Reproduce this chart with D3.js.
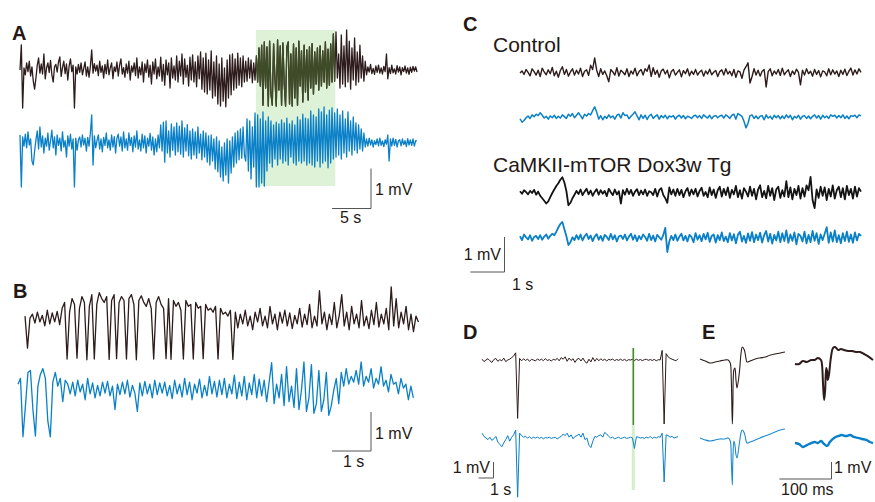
<!DOCTYPE html>
<html>
<head>
<meta charset="utf-8">
<script src="https://cdn.jsdelivr.net/npm/d3@7"></script>
<style>
  body { margin: 0; background: #fff; }
  svg { display: block; }
  text { font-family: "Liberation Sans", Arial, sans-serif; fill: #231815; }
</style>
</head>
<body>
<svg id="fig" width="875" height="502"></svg>
<script>
// all trace values in 0.01 mV, evenly sampled over the trace duration

// A: ~51 s, top = black, bottom = blue
var aBlack = [
  0, 63, -95, 5, -12, 18, -4, 22, -15, 8,
  -28, -48, -20, 12, 30, -8, 15, -10, 40, -22,
  5, 18, -6, 24, -12, -30, 8, 14, -5, 20,
  33, -16, 6, 22, -9, 15, -25, 10, 28, -4,
  12, -95, 8, -10, 14, -6, 18, -12, 4, 20,
  -15, 8, -18, 9, 50, -8, 16, -3, 12, -14,
  22, -6, 10, -20, 14, -9, 25, -12, 5, 18,
  -22, 8, -4, 20, -15, 12, 28, -10, 6, -18,
  15, -8, 22, -25, 10, -5, 18, -14, 30, -20,
  8, -12, 20, -30, 15, -6, 25, -18, 12, -35,
  20, -10, 28, -22, 8, -15, 32, -28, 14, -38,
  25, -12, 18, -45, 30, -20, 10, -25, 35, -30,
  22, -15, 40, -35, 28, -18, 12, -40, 32, -25,
  38, -30, 20, -42, 35, -22, 45, -48, 30, -55,
  42, -60, 25, -50, 48, -70, 20, -65, 35, -85,
  15, -90, 30, -78, 5, -92, 25, -70, 38, -62,
  40, -50, 28, -45, 42, -38, 30, -42, 35, -30,
  22, -28, 30, -20, 25, -32, 18, -25,
  35, -30, 55, -40, 62, -88, 70, -45, 58, -90,
  72, -60, -88, 65, -20, -90, 75, -50, 60, -88,
  68, -35, -90, 58, 70, -85, 40, -90, 65, -70,
  55, -88, 72, -40, 48, -80, 62, -55, 50, -75,
  58, -45, 66, -60, 45, -35, 55, -50, 60, -40,
  48, -30, 70, -45, 52, -38, 65, -30, 90, -28,
  95, -20, 40, -45, 88, -35, 60, -42, 100, -30,
  72, -48, 55, -25, 80, -38, 45, -30, 62, -20,
  35, -28, 22,
  -12, 8, -5, 14, -9, 4, -11, 10, -6, 12,
  -8, 5, -10, 9, -4, 40, -22, 6, -9, 12,
  -7, 3, -10, 11, -5, 8, -12, 6, -4, 10,
  -8, 5, -11, 7, -6, 9, -3, 8, -5
];
var aBlue = [
  20, -110, 15, -8, 22, -12, 28, -5, 10, -45,
  -55, -20, 8, 30, -15, 40, -10, 18, -25, 12,
  -8, 25, -18, 5, 32, -12, 15, -30, 20, -6,
  12, -20, 28, -10, 6, -35, 18, -8, 22, -15,
  10, -110, 12, -18, 8, 15, -10, 20, -5, 12,
  -20, 14, -8, 25, 70, -55, 18, -12, 6, 20,
  -15, 10, -22, 14, -6, 25, -12, 8, -18, 20,
  -10, 16, -25, 12, 22, -8, 15, -20, 28, -12,
  10, -18, 25, -6, 14, -22, 18, -10, 30, -15,
  8, -20, 22, -12, 18, -25, 12, -8, 24, -18,
  15, -30, 10, -22, 20, -12, 45, -20, 52, -48,
  55, -25, 30, -35, 48, -18, 40, -30, 50, -22,
  42, -28, 55, -35, 38, -20, 46, -32, 30, -40,
  35, -30, 28, -38, 40, -25, 22, -42, 30, -35,
  25, -48, 18, -55, 20, -45, 10, -65, 15, -72,
  5, -85, -10, -95, 0, -80, 10, -100, 5, -75,
  15, -60, 25, -50, 30, -42, 35, -38, 40, -30,
  -45, 60, -70, 55, -90, 40, -60, 75,
  -110, 70, -110, 60, -100, 78, -108, 55, -70, 65,
  -50, 55, -60, 45, -40, 52, -55, 48, -40, 58,
  -50, 50, -45, 62, -55, 48, -35, 55, -50, 45,
  -55, 65, -45, 58, -50, 72, -45, 62, -55, 60,
  -50, 80, -55, 70, -60, 65, -45, 85, -60, 78,
  -50, 90, -45, 70, -62, 82, -50, 88, -40, 75,
  -35, 85, -30, 70, -40, 80, -25, 60, -35, 78,
  -20, 55, -30, 65, -18, 50, -25, 45, -15, 35,
  -20, 25, -10,
  10, -8, 12, -5, 8, -10, 6, -4, 10, -7,
  12, -6, 5, -9, 8, -3, 20, -45, 10, -8,
  12, -6, 9, -10, 5, 8, -7, 10, -4, 6,
  -9, 11, -5, 8, -6, 10, -8, 6, 5
];

// B: ~10 s
var bBlack = [
  10, -72, 5, 15, -8, 20, -5, 12, -15, 25,
  -10, 18, -5, 22, -12, 30, 45, -100, 20, 55,
  40, -98, 30, 60, 45, -102, 35, 65, -100, 40,
  70, 55, 45, 60, -101, 50, 65, -99, 45, 60,
  50, -100, 55, 65, 40, -102, 50, 62, 45, 35,
  55, 30, -100, 45, 60, 40, 30, -99, 55, -101,
  50, 35, 45, 25, -100, 50, 35, 40, -100, 45,
  30, 35, -99, 40, 25, 30, 20, 35, -100, 30,
  15, 20, 10, 25, -101, 20,
  -20, 15, -10, 25, -15, 10, -25, 20, -5, 30,
  -15, 10, -20, 35, -10, 15, -25, 20, -8, 25,
  -15, 18, -22, 12, -10, 30, -18, 15, -12, 40,
  -20, 10, -15, 75, -10, 20, -25, 15, -12, 45,
  -20, 12, 65, -15, 20, -25, 35, -10, 15, -20,
  50, -15, 10, -22, 25, -12, 45, -18, 15, -10,
  30, -25, 85, -15, 55, -20, 20, -10, 35, -25,
  15, -30, 10, -5
];
var bBlue = [
  15, 30, -120, -40, 45, 50, -50, -118, 10, 40, 55, 30, -80, -120, 20, 45, 10, 30, -30, 25, 15,
  -10, 20, -15, 25, -5, 15, -25, 30, -10, 18, -20, 12, -15, 20, -8, 22, -15, 10, -50, 15,
  -12, 20, -10, 25, -18, 12, -8, -55, 18, -15, 22, -10, 15, -20, 25, -12, 18, -8, 20, -15,
  12, -22, 25, -10, 15, -18, 30, -12, 20, -25, 15, -8, 28, -20, 12, -15, 35, -10, 22, -18,
  25, -12, 30, -20, 15, -10, 38, -22, 20, -15, 35, -25, 18, -12, 40, -20, 28, -15, 25,
  -30, 20, 70, -35, 15, -20, 40, -40, 60, -30, 10, -45, 55, -50, 0, 72, -55, -20, 65, -60,
  -35, 50, -55, -25, 45, -65, -40, 0, 30, -35, 45, 10, 55, 15, 35,
  20, 50, 15, 72, 10, 35, 20, 55, 5, 30, 15, 60, 10, 25, -5, 40, 15, 20, -10, 30,
  5, 15, -25, 10, -20
];

// C: 10 s, Control and CaMKII-mTOR Dox3w Tg
var cCtrlBlack = [
  0, 6, -4, 10, 2, -8, 12, 4, -6, 8,
  -10, 14, 3, -5, 9, -2, 16, -8, 5, -12,
  7, 18, -4, 10, -9, 3, 12, -6, 8, -3,
  14, -10, 5, 9, -7, 22, 10, 43, 8, -10,
  12, -4, 6, -8, -25, 10, 3, -6, 15, -9,
  8, 2, -5, 12, -10, 6, -3, 14, -8, 4,
  10, -6, 12, 5, 23, -10, 15, -4, 8, -12,
  6, 11, -3, 8, -14, 4, 10, -6, 2, 9,
  -11, 7, -2, 12, -8, 5, -4, 10, -6, 3,
  8, -9, 6, -3, 11, -5, 2, 7, -10, 4,
  9, -6, 12, -3, 5, -8, 10, -12, 6, 3,
  -15, 8, 18, 29, -29, -10, 12, -6, 8, -9,
  5, 10, -40, 4, 12, -8, 6, -3, 10, -7,
  14, -5, 3, 9, -10, 6, -4, 11, 2, -34,
  8, -6, 12, -2, 5, -9, 10, -4, 7, -11,
  6, 3, -8, 12, -5, 9, -3, 6, -10, 8,
  -4, 11, -7, 5, 14, -6, 9, -3, 12, 2
];
var cCtrlBlue = [
  -5, -15, -10, -2, 3, -4, 6, 1, 8, 4,
  12, 5, -3, 2, -6, 3, -2, 5, -4, 2,
  -3, 6, 1, -4, 8, 2, 10, -2, 5, 12,
  4, -5, 8, 3, 10, 6, 18, 29, 14, -6,
  4, -8, 2, -4, 6, -2, 3, -6, 5, 8,
  -3, 12, 4, 6, -5, 2, 8, 15, 3, -8,
  6, -4, 5, -7, 3, 8, -4, 2, 6, -6,
  4, -2, 5, -5, 3, 0, 4, -6, 2, 5,
  -3, 4, -5, 2, 0, -4, 3, 5, -2, 4,
  -4, 6, 1, -3, 5, -5, 2, 4, -2, 3,
  5, -3, 6, 2, -4, 5, 8, -6, 10, 6,
  2, -12, -31, -18, 4, 6, -4, 3, -5, 2,
  4, -8, 6, -3, 2, -6, 5, -2, 4, -5,
  3, -4, 6, -2, 5, -8, 2, -3, 5, -6,
  2, 4, -4, 3, -5, 2, 6, -3, 4, -6,
  5, -2, 3, -4, 6, 2, 5, -3, 4, -2,
  6, -4, 3, -5, 4, 2, 5, -2, 6, 3
];
var cTgBlack = [
  5, -2, 8, 3, -4, 6, 0, 9, -5, 4,
  -8, -15, -22, -30, -24, -12, 0, 10, 20, 28,
  38, 45, 30, 5, -35, -28, -15, -5, 6, -3,
  10, -6, 4, 12, -4, 7, -8, 3, 11, -5,
  8, -2, 6, -9, 12, 2, -6, 10, -4, 5,
  -30, 8, -5, 12, -3, 9, -8, 4, 11, -6,
  7, -4, 10, -8, 5, 2, -6, 12, -10, 8,
  14, -6, -15, -28, 16, -4, 10, -8, 12, -6,
  9, -12, 5, 14, -8, 10, -4, 12, -10, 6,
  15, -8, 3, -12, 16, -6, 10, -14, 8, 18,
  -10, 12, -6, 16, -14, 9, -4, 20, -12, 8,
  -16, 14, 4, -10, 18, -8, 12, -18, 10, 22,
  -12, 6, -15, 20, -8, 14, -20, 10, 18, -14,
  8, -10, 34, -12, 16, -18, 12, -6, 20, -16,
  14, -10, 22, 8, 46, -20, -43, 10, -14, 18,
  -8, 16, -20, 12, -10, 22, -16, 8, 18, -12,
  14, -18, 20, -6, 12, -16, 18, -10, 14, 4
];
var cTgBlue = [
  5, -6, 10, 2, -4, 8, -8, 3, 6, -3,
  8, -5, 4, 10, -2, 6, 12, 8, 18, 30,
  40, 46, 25, 5, -20, -12, 2, -6, 8, -4,
  10, -7, 5, 12, -3, 7, -9, 4, 11, -5,
  6, -8, 9, 3, -6, 12, -4, 8, -10, 5,
  7, -3, 10, -7, 4, 12, -5, 8, -9, 6,
  -4, 10, 3, -8, 12, -6, 7, -10, 9, 2,
  -5, 8, 29, -40, -10, 6, -6, 10, -8, 4,
  12, -7, 6, -10, 9, 3, -12, 14, -5, 8,
  -9, 12, -4, 15, -11, 6, 10, -13, 8, -6,
  16, -9, 4, -12, 14, -7, 11, -15, 9, 18,
  -10, 6, -14, 13, -8, 17, -12, 10, -6, 15,
  -13, 8, 20, -10, 12, -16, 9, -7, 18, -12,
  14, -9, 22, -14, 10, -8, 16, -18, 12, 6,
  -10, 18, -15, 9, -12, 20, -8, 14, -17, 10,
  -6, 12, 31, -14, 16, -10, 22, -12, 8, -15,
  14, -9, 18, -11, 10, -14, 16, -7, 12, 6
];

// D: ~13 s
var dBlack = [
  5, -10, 0, 8, -5, -15, 3, 10, -8, 2,
  -5, 12, -10, 0, 5, 15, 25, 45, -365, 10,
  -5, 8, -3, 6, -8, 4, 0, -6, 7, -2,
  5, -4, 8, -3, 2, -6, 4, 0, 10, -5,
  15, 5, 20, -8, 12, -3, 8, -15, 5, 10,
  -6, 12, -10, -20, 5, -12, 15, -8, 10, -5,
  8, -3, 5, -6, 4, 0, 6, -4, 3, -2,
  5, -3, 4, -5, 2, 0, 4, -3, 5, -2,
  3, -4, 2, 5, -2, 3, -3, 4, -5, 2,
  0, 60, -400, 40, 20, 10, 5, 0, -5, 8
];
var dBlue = [
  30, 10, 0, -10, 5, -15, -5, 10, -25, -40,
  -55, -30, -10, 15, -20, 5, 20, 50, -370, 30,
  15, 5, 10, 0, 8, -3, 5, 0, 6, -2,
  4, -5, 3, 0, 5, -3, 2, 4, -6, 3,
  10, 25, 15, 30, 5, 20, -5, 10, 15, 25,
  5, 30, -10, 0, -45, -60, -20, 10, 5, 15,
  20, 5, 35, 25, 10, 0, 5, -5, 0, 5,
  -3, 0, 5, -2, 0, 5, 0, -65, 8, 5,
  0, 3, -2, 5, 0, 10, -3, 5, 0, 8,
  5, 30, -275, 20, 15, 5, 10, 0, 5, 8
];

// E: single events, time in ms, value in 0.01 mV
var e1Time  = [0, 10, 19, 29, 38, 48, 54, 58, 60, 62, 63, 65, 67, 69, 71, 75, 79, 81, 85, 88, 90, 96, 106, 115, 125, 135, 144, 154, 163];
var e1Black = [18, 6, -6, 0, 6, 12, 12, -6, -106, -365, -253, -47, -35, -106, -153, -76, 59, 88, 71, 24, 0, 6, 18, 24, 29, 41, 47, 53, 59];
var e1Blue  = [18, 6, 0, 6, 12, 12, 18, 0, -112, -259, -112, 0, -24, -82, -100, -24, 53, 65, 47, 6, -12, -6, 6, 18, 29, 41, 53, 65, 71];
var e2Time  = [0, 8, 15, 23, 31, 38, 44, 50, 52, 54, 56, 58, 60, 62, 63, 65, 69, 73, 77, 83, 88, 94, 102, 110, 117, 125, 133, 140, 150];
var e2Black = [-12, -12, 6, 0, 12, 12, 24, 12, -18, -135, -224, -165, -35, -59, -106, -82, 24, 82, 88, 71, 76, 71, 65, 65, 59, 59, 47, 35, 12];
var e2BlueTime = [0, 8, 15, 23, 31, 38, 44, 50, 56, 62, 67, 75, 83, 90, 98, 106, 113, 121, 129, 137, 144, 150];
var e2Blue  = [-12, -18, -35, -24, -12, -6, -12, 0, -18, -29, -6, 18, 29, 35, 29, 35, 24, 18, 12, 6, -6, -12];

var brown = "#2e1c1c", blue = "#0a80c8", black = "#141414";
var svg = d3.select("#fig");

function yScale(base, pxPerMv) {
  return d3.scaleLinear().domain([0, 1]).range([base, base - pxPerMv]);
}

function drawTrace(g, vals, xs, t0, dur, ys, color, w) {
  var n = vals.length;
  var line = d3.line()
    .x((d, i) => xs(t0 + i * dur / (n - 1)))
    .y(d => ys(d / 100));
  return g.append("path").attr("d", line(vals))
    .attr("fill", "none").attr("stroke", color)
    .attr("stroke-width", w).attr("stroke-linejoin", "round");
}

function drawEvent(g, times, vals, xs, ys, color, w) {
  var line = d3.line()
    .x((d, i) => xs(times[i]))
    .y(d => ys(d / 100))
    .curve(d3.curveCatmullRom);
  g.append("path").attr("d", line(vals))
    .attr("fill", "none").attr("stroke", color)
    .attr("stroke-width", w).attr("stroke-linejoin", "round");
}

// L-shaped scale bar, corner at (cx, cy)
function scaleBar(cx, cy, xs, xLen, ys, yLen) {
  var w = xs(xLen) - xs(0), h = ys(0) - ys(yLen);
  svg.append("path")
    .attr("d", "M" + cx + "," + (cy - h) + "V" + cy + "H" + (cx - w))
    .attr("fill", "none").attr("stroke", "#555").attr("stroke-width", 1);
}

function label(x, y, s, opt) {
  opt = opt || {};
  return svg.append("text").attr("x", x).attr("y", y)
    .attr("font-size", opt.size || 16)
    .attr("font-weight", opt.bold ? "bold" : "normal")
    .attr("text-anchor", opt.anchor || "start")
    .text(s);
}

// ---- panel labels
label(12, 40, "A", {size: 20, bold: true});
label(13, 298, "B", {size: 20, bold: true});
label(463, 31, "C", {size: 20, bold: true});
label(463, 339, "D", {size: 20, bold: true});
label(702, 339, "E", {size: 20, bold: true});

// ---- A
var xA = d3.scaleLinear().domain([0, 51]).range([20, 417]);
var boxA = [30.3, 40.5]; // highlighted seconds
svg.append("rect").attr("x", xA(boxA[0])).attr("y", 30)
  .attr("width", xA(boxA[1]) - xA(boxA[0])).attr("height", 156)
  .attr("fill", "#def2d7");
svg.append("clipPath").attr("id", "clipA").append("rect")
  .attr("x", xA(boxA[0])).attr("y", 0)
  .attr("width", xA(boxA[1]) - xA(boxA[0])).attr("height", 110);
var gA = svg.append("g");
drawTrace(gA, aBlack, xA, 0, 51, yScale(70, 40), brown, 1.3);
drawTrace(gA, aBlack, xA, 0, 51, yScale(70, 40), "#3e4c27", 1.3).attr("clip-path", "url(#clipA)");
drawTrace(gA, aBlue, xA, 0, 51, yScale(143, 40), blue, 1.3);
scaleBar(371, 208.5, xA, 5, yScale(0, 40), 1);
label(375, 195, "1 mV");
label(340, 223, "5 s");

// ---- B
var xB = d3.scaleLinear().domain([0, 10.3]).range([18, 420]);
var gB = svg.append("g");
drawTrace(gB, bBlack, xB, 0.18, 10.08, yScale(320, 39), brown, 1.3);
drawTrace(gB, bBlue, xB, 0, 10.13, yScale(390, 39), blue, 1.3);
scaleBar(371, 451, xB, 1, yScale(0, 39), 1);
label(375, 439, "1 mV");
label(343, 467, "1 s");

// ---- C
var xC = d3.scaleLinear().domain([0, 10]).range([520, 861]);
var gC = svg.append("g");
label(493, 52, "Control", {size: 21});
label(493, 172, "CaMKII-mTOR Dox3w Tg", {size: 21});
drawTrace(gC, cCtrlBlack, xC, 0, 10, yScale(73, 35), brown, 1.4);
drawTrace(gC, cCtrlBlue, xC, 0, 10, yScale(117, 35), blue, 1.5);
drawTrace(gC, cTgBlack, xC, 0, 10, yScale(193, 35), black, 1.8);
drawTrace(gC, cTgBlue, xC, 0, 10, yScale(238, 35), blue, 1.8);
scaleBar(504.5, 272, xC, 1, yScale(0, 35), 1);
label(501, 260, "1 mV", {anchor: "end"});
label(512, 290, "1 s");

// ---- D
var xD = d3.scaleLinear().domain([0, 13.1]).range([482, 678]);
var markD = 10.11;
svg.append("rect").attr("x", xD(markD) - 1.5).attr("y", 348)
  .attr("width", 3).attr("height", 142).attr("fill", "#d4edcb");
var gD = svg.append("g");
drawTrace(gD, dBlack, xD, 0, 13.1, yScale(360, 16), brown, 1);
drawTrace(gD, dBlue, xD, 0, 13.1, yScale(438, 16), blue, 1);
svg.append("line").attr("x1", xD(markD)).attr("x2", xD(markD))
  .attr("y1", 348).attr("y2", 425).attr("stroke", "#3f7d34").attr("stroke-width", 1.3);
scaleBar(493.5, 478, xD, 1, yScale(0, 16), 1);
label(490, 473, "1 mV", {anchor: "end"});
label(490, 495, "1 s");

// ---- E
var xE1 = d3.scaleLinear().domain([0, 163]).range([700, 785]);
var xE2 = d3.scaleLinear().domain([0, 150]).range([795, 873]);
var gE = svg.append("g");
drawEvent(gE, e1Time, e1Black, xE1, yScale(362, 17), brown, 1.1);
drawEvent(gE, e1Time, e1Blue, xE1, yScale(441, 17), "#1f8ad2", 1.1);
drawEvent(gE, e2Time, e2Black, xE2, yScale(362, 17), brown, 2);
drawEvent(gE, e2BlueTime, e2Blue, xE2, yScale(441, 17), blue, 2.4);
scaleBar(831.5, 479, xE1, 100, yScale(0, 17), 1);
label(834, 473, "1 mV");
label(781, 495, "100 ms");
</script>
</body>
</html>
